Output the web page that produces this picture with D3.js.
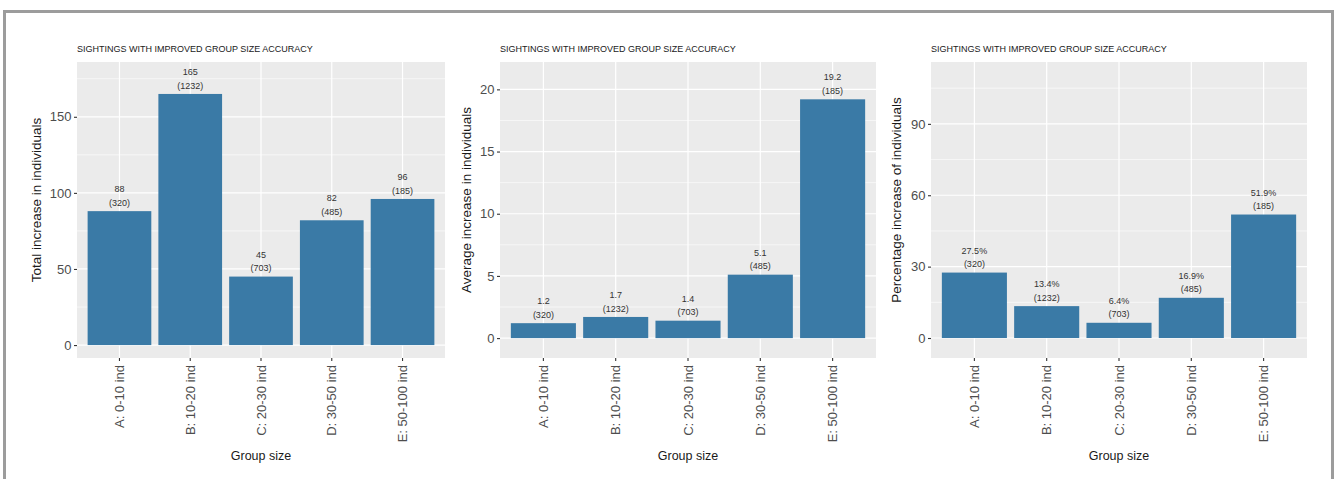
<!DOCTYPE html>
<html>
<head>
<meta charset="utf-8">
<script src="https://cdn.jsdelivr.net/npm/d3@7"></script>
<style>
  html, body { margin: 0; padding: 0; background: #ffffff; }
  svg { display: block; font-family: "Liberation Sans", Arial, sans-serif; }
</style>
</head>
<body>
<svg id="chart" width="1336" height="479"></svg>
<script>
// ---------- data ----------
const categories = ["A: 0-10 ind", "B: 10-20 ind", "C: 20-30 ind", "D: 30-50 ind", "E: 50-100 ind"];
const sightingCounts = [320, 1232, 703, 485, 185];
const totalIncrease = [88, 165, 45, 82, 96];
const averageIncrease = [1.2, 1.7, 1.4, 5.1, 19.2];
const percentIncrease = [27.5, 13.4, 6.4, 16.9, 51.9];

const chartTitle = "SIGHTINGS WITH IMPROVED GROUP SIZE ACCURACY";
const xAxisTitle = "Group size";
const yTitles = ["Total increase in individuals", "Average increase in individuals", "Percentage increase of individuals"];
const yTicks1 = [0, 50, 100, 150];
const yTicks2 = [0, 5, 10, 15, 20];
const yTicks3 = [0, 30, 60, 90];
const yLimits1 = [-8.5, 186];
const yLimits2 = [-1.6, 22.2];
const yLimits3 = [-8.4, 116];

// ---------- layout ----------
const svg = d3.select("#chart");
const panelTop = 62, panelBottom = 358;
const barColor = "#3a7aa6";

// outer frame
svg.append("rect")
  .attr("x", 4.5).attr("y", 11.5)
  .attr("width", 1328).attr("height", 520)
  .attr("fill", "none").attr("stroke", "#9c9c9c").attr("stroke-width", 3);

const panels = [
  { x0: 77, x1: 445, values: totalIncrease, ticks: yTicks1, lim: yLimits1, yTitle: yTitles[0], yTitleX: 36, fmt: d => d3.format("d")(d) },
  { x0: 500, x1: 876, values: averageIncrease, ticks: yTicks2, lim: yLimits2, yTitle: yTitles[1], yTitleX: 466, fmt: d => d3.format(".1f")(d) },
  { x0: 931, x1: 1307, values: percentIncrease, ticks: yTicks3, lim: yLimits3, yTitle: yTitles[2], yTitleX: 896, fmt: d => d3.format(".1f")(d) + "%" }
];

panels.forEach(p => {
  const g = svg.append("g");
  const x = d3.scaleBand().domain(categories).range([p.x0, p.x1]).paddingOuter(0.1).paddingInner(0);
  // ggplot: expand 0.6 units each side => outer padding 0.6 of step with bands of width 1 step
  const n = categories.length;
  const step = (p.x1 - p.x0) / (n + 0.2);
  const xs = d3.scaleBand().domain(categories).range([p.x0 + 0.1 * step, p.x1 - 0.1 * step]).padding(0);
  const y = d3.scaleLinear().domain(p.lim).range([panelBottom, panelTop]);

  // panel background
  g.append("rect").attr("x", p.x0).attr("y", panelTop)
    .attr("width", p.x1 - p.x0).attr("height", panelBottom - panelTop)
    .attr("fill", "#ebebeb");

  // minor gridlines
  const tstep = p.ticks[1] - p.ticks[0];
  const minor = [];
  for (let v = p.ticks[0] - tstep / 2; v <= p.lim[1]; v += tstep) {
    if (v >= p.lim[0]) minor.push(v);
  }
  g.selectAll(".minor").data(minor).join("line")
    .attr("x1", p.x0).attr("x2", p.x1)
    .attr("y1", d => y(d)).attr("y2", d => y(d))
    .attr("stroke", "#ffffff").attr("stroke-width", 0.6);

  // major gridlines
  g.selectAll(".major").data(p.ticks).join("line")
    .attr("x1", p.x0).attr("x2", p.x1)
    .attr("y1", d => y(d)).attr("y2", d => y(d))
    .attr("stroke", "#ffffff").attr("stroke-width", 1.2);
  g.selectAll(".vmajor").data(categories).join("line")
    .attr("x1", d => xs(d) + xs.bandwidth() / 2).attr("x2", d => xs(d) + xs.bandwidth() / 2)
    .attr("y1", panelTop).attr("y2", panelBottom)
    .attr("stroke", "#ffffff").attr("stroke-width", 1.2);

  // bars
  const bw = xs.bandwidth() * 0.9;
  g.selectAll(".bar").data(p.values).join("rect")
    .attr("x", (d, i) => xs(categories[i]) + (xs.bandwidth() - bw) / 2)
    .attr("y", d => y(d))
    .attr("width", bw)
    .attr("height", d => y(0) - y(d))
    .attr("fill", barColor);

  // bar labels
  p.values.forEach((v, i) => {
    const cx = xs(categories[i]) + xs.bandwidth() / 2;
    g.append("text").attr("x", cx).attr("y", y(v) - 22).attr("dy", "0.35em")
      .attr("text-anchor", "middle").attr("font-size", 9).attr("fill", "#333333")
      .text(p.fmt(v));
    g.append("text").attr("x", cx).attr("y", y(v) - 8.5).attr("dy", "0.35em")
      .attr("text-anchor", "middle").attr("font-size", 9).attr("fill", "#333333")
      .text("(" + sightingCounts[i] + ")");
  });

  // y axis
  const yAxis = d3.axisLeft(y).tickValues(p.ticks).tickSize(3).tickPadding(2.5).tickFormat(d3.format("d"));
  const ya = g.append("g").attr("transform", `translate(${p.x0},0)`).call(yAxis);
  ya.select(".domain").remove();
  ya.selectAll(".tick line").attr("stroke", "#333333").attr("stroke-width", 1.1);
  ya.selectAll(".tick text").attr("font-size", 13).attr("fill", "#4d4d4d")
    .attr("font-family", "'Liberation Sans', Arial, sans-serif");

  // x axis
  const xAxis = d3.axisBottom(xs).tickSize(3).tickPadding(0);
  const xa = g.append("g").attr("transform", `translate(0,${panelBottom})`).call(xAxis);
  xa.select(".domain").remove();
  xa.selectAll(".tick line").attr("stroke", "#333333").attr("stroke-width", 1.1);
  xa.selectAll(".tick text")
    .attr("font-size", 13).attr("fill", "#4d4d4d")
    .attr("font-family", "'Liberation Sans', Arial, sans-serif")
    .attr("text-anchor", "end")
    .attr("transform", "translate(0,7) rotate(-90)")
    .attr("x", 0).attr("y", 0).attr("dy", "0.35em");

  // title
  g.append("text").attr("x", p.x0).attr("y", 52)
    .attr("font-size", 9).attr("fill", "#1a1a1a").text(chartTitle);

  // x title
  g.append("text").attr("x", (p.x0 + p.x1) / 2).attr("y", 459.5)
    .attr("text-anchor", "middle").attr("font-size", 12.5).attr("fill", "#1a1a1a").text(xAxisTitle);

  // y title
  g.append("text")
    .attr("transform", `translate(${p.yTitleX},${(panelTop + panelBottom) / 2 - 10}) rotate(-90)`)
    .attr("text-anchor", "middle").attr("dy", "0.35em")
    .attr("font-size", 13.5).attr("fill", "#1a1a1a").text(p.yTitle);
});
</script>
</body>
</html>
